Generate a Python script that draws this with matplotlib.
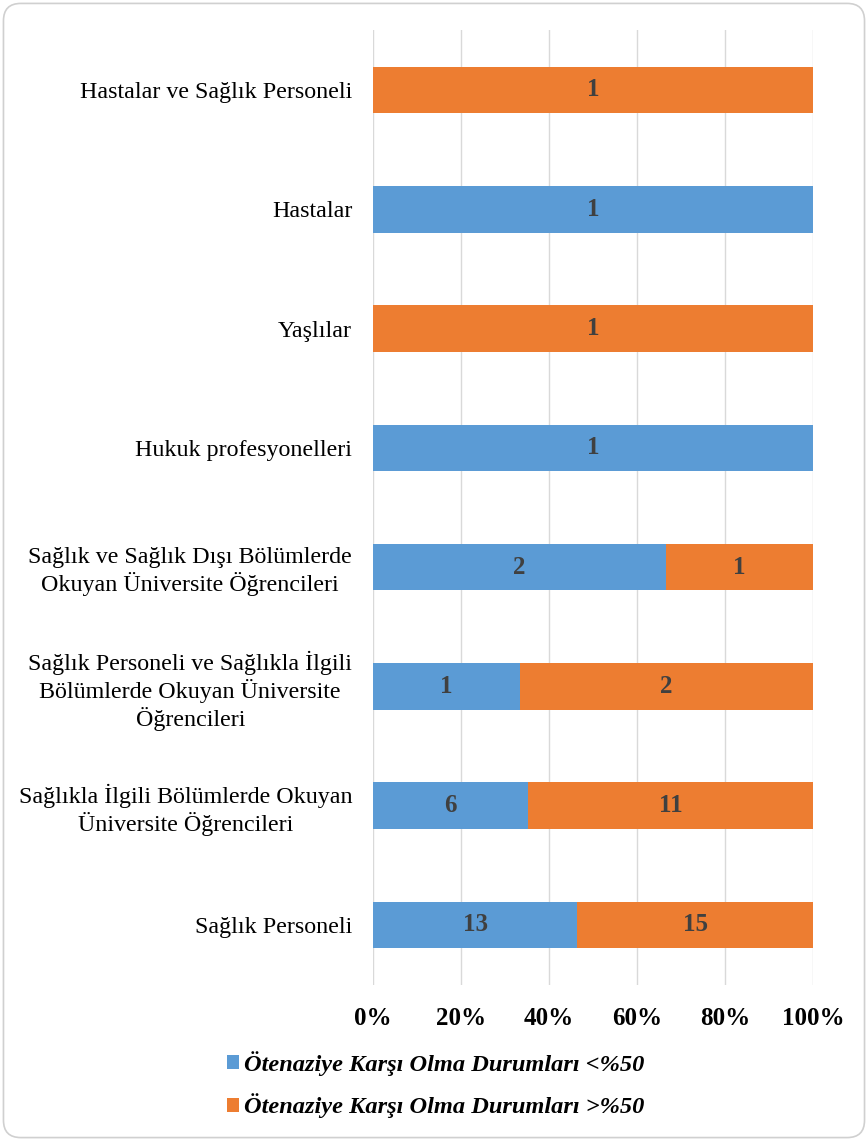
import matplotlib
matplotlib.use("Agg")
import matplotlib.pyplot as plt
from matplotlib.patches import FancyBboxPatch
from matplotlib.ticker import PercentFormatter
import numpy as np

# kategoriler (yukaridan asagiya)
categories = [
    "Hastalar ve Sağlık Personeli",
    "Hastalar",
    "Yaşlılar",
    "Hukuk profesyonelleri",
    "Sağlık ve Sağlık Dışı Bölümlerde\nOkuyan Üniversite Öğrencileri",
    "Sağlık Personeli ve Sağlıkla İlgili\nBölümlerde Okuyan Üniversite\nÖğrencileri",
    "Sağlıkla İlgili Bölümlerde Okuyan\nÜniversite Öğrencileri",
    "Sağlık Personeli",
]
below_50 = [0, 1, 0, 1, 2, 1, 6, 13]
above_50 = [1, 0, 1, 0, 1, 2, 11, 15]
series_names = ["Ötenaziye Karşı Olma Durumları <%50",
                "Ötenaziye Karşı Olma Durumları >%50"]
x_ticks = [0, 20, 40, 60, 80, 100]

BLUE = "#5B9BD5"
ORANGE = "#ED7D31"

plt.rcParams["font.family"] = ["Liberation Serif", "DejaVu Serif"]

fig = plt.figure(figsize=(8.68, 11.41), dpi=100)
ax = fig.add_axes([0.4297, 0.1371, 0.5069, 0.8363])

lo = np.array(below_50, dtype=float)
hi = np.array(above_50, dtype=float)
tot = lo + hi
lo_pct = lo / tot * 100
hi_pct = hi / tot * 100
y = np.arange(len(categories))

b1 = ax.barh(y, lo_pct, height=0.39, color=BLUE, label=series_names[0], zorder=3)
b2 = ax.barh(y, hi_pct, left=lo_pct, height=0.39, color=ORANGE,
             label=series_names[1], zorder=3)

for bars, vals in ((b1, below_50), (b2, above_50)):
    for rect, v in zip(bars, vals):
        if v == 0:
            continue
        ax.text(rect.get_x() + rect.get_width() / 2, rect.get_y() + rect.get_height() / 2,
                str(v), ha="center", va="center", fontsize=18, fontweight="bold",
                color="#404040", zorder=4)

ax.set_ylim(len(categories) - 0.5, -0.5)
ax.set_xlim(0, 100)
ax.set_xticks(x_ticks)
ax.xaxis.set_major_formatter(PercentFormatter(decimals=0))
ax.set_yticks(y)
ax.set_yticklabels(categories, fontsize=17.3, ha="right", multialignment="center")
ax.tick_params(axis="y", length=0, pad=15)
ax.tick_params(axis="x", length=0, pad=16, labelsize=18)
for lbl in ax.get_xticklabels():
    lbl.set_fontweight("bold")
ax.grid(axis="x", color="#D9D9D9", linewidth=1, zorder=0)
for s in ax.spines.values():
    s.set_visible(False)

leg = fig.legend(handles=[b1, b2], loc="upper left", bbox_to_anchor=(0.236, 0.098),
                 frameon=False, handlelength=0.5, handleheight=0.5,
                 handletextpad=0.2, labelspacing=0.72,
                 prop={"size": 17.6, "style": "italic", "weight": "bold"})

border = FancyBboxPatch((0.004, 0.003), 0.992, 0.994, boxstyle="round,pad=0,rounding_size=0.02",
                        transform=fig.transFigure, fill=False, edgecolor="#D0D0D0",
                        linewidth=1.2, mutation_aspect=868 / 1141)
fig.patches.append(border)

fig.savefig("out.png", dpi=100)
